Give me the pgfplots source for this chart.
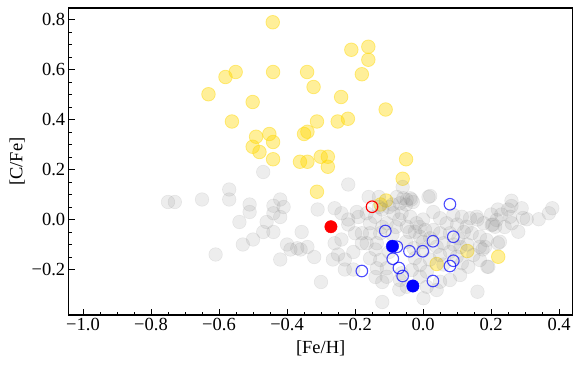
\documentclass[border=0pt]{standalone}
\usepackage{pgfplots}
\pgfplotsset{compat=1.18}
\usepackage{fontspec}
\setmainfont{Liberation Serif}
\definecolor{gold}{RGB}{255,215,0}

% grey field sample
\pgfplotstableread{
x y
-0.75 0.07
-0.73 0.07
-0.65 0.08
-0.57 0.12
-0.57 0.08
-0.51 0.06
-0.51 0.03
-0.54 -0.01
-0.47 0.19
-0.50 -0.08
-0.53 -0.10
-0.61 -0.14
-0.47 -0.05
-0.46 -0.01
-0.44 -0.05
-0.42 0.08
-0.44 0.055
-0.41 0.05
-0.44 0.025
-0.42 0.01
-0.40 -0.10
-0.39 -0.12
-0.42 -0.16
-0.36 -0.12
-0.357 -0.05
-0.37 -0.115
-0.34 -0.11
-0.32 -0.15
-0.30 -0.25
-0.31 0.04
-0.26 0.045
-0.24 0.025
-0.22 0.14
-0.16 0.09
-0.13 0.09
-0.26 -0.095
-0.24 -0.08
-0.265 -0.16
-0.23 -0.16
-0.23 -0.20
-0.205 -0.20
-0.25 -0.14
-0.205 -0.13
-0.12 -0.33
-0.07 -0.28
-0.22 0.00
-0.22 -0.02
-0.19 0.01
-0.20 -0.055
-0.18 -0.055
-0.166 -0.095
-0.18 -0.095
-0.156 -0.015
-0.156 -0.055
-0.136 -0.095
-0.126 -0.055
-0.107 -0.015
-0.087 0.025
-0.068 0.065
-0.156 -0.155
-0.126 -0.162
-0.107 -0.195
-0.136 -0.195
-0.107 -0.229
-0.068 -0.242
-0.166 0.025
-0.195 0.03
-0.141 0.011
-0.12 0.04
-0.10 0.05
-0.13 0.05
-0.09 0.06
-0.05 0.06
-0.03 0.07
-0.06 0.13
-0.077 0.09
-0.058 0.085
-0.038 0.085
0.016 0.09
-0.048 0.078
-0.034 0.08
0.021 0.094
-0.12 -0.03
-0.14 -0.12
-0.09 -0.06
-0.10 -0.13
-0.12 -0.25
-0.14 -0.23
-0.08 -0.03
-0.07 0.00
-0.063 0.025
-0.038 0.011
-0.019 -0.015
0.006 -0.042
-0.024 -0.049
-0.048 -0.029
-0.009 -0.069
0.05 0.005
0.069 -0.015
0.089 0.018
0.114 0.011
0.138 0.005
0.158 0.011
0.178 -0.015
0.202 -0.022
0.216 -0.002
0.128 -0.029
0.143 -0.055
0.167 -0.069
0.187 -0.082
0.167 -0.109
0.148 -0.142
0.167 -0.162
0.104 -0.075
0.079 -0.055
0.05 -0.055
0.03 -0.042
0.021 -0.075
0.06 -0.095
0.04 -0.109
0.05 -0.142
0.079 -0.129
0.099 -0.149
0.114 -0.175
0.133 -0.189
0.109 -0.222
0.079 -0.242
0.05 -0.249
0.011 -0.209
-0.009 -0.182
-0.024 -0.155
-0.033 -0.202
-0.009 -0.229
0.011 -0.269
0.04 -0.282
-0.048 -0.269
-0.063 -0.215
-0.028 -0.115
0.001 -0.122
0.00 -0.09
-0.05 -0.09
0.09 -0.10
0.12 -0.05
0.10 -0.02
0.03 0.03
0.00 0.00
-0.01 -0.03
0.06 -0.18
0.02 -0.16
-0.04 -0.05
0.16 0.00
0.11 -0.11
0.13 -0.10
0.16 -0.289
0.001 -0.315
0.192 -0.189
0.26 0.075
0.26 0.054
0.29 0.045
0.38 0.045
0.37 0.025
0.34 0.001
0.305 0.001
0.294 0.006
0.256 0.011
0.25 0.04
0.22 0.04
0.23 0.02
0.261 -0.015
0.28 -0.049
0.212 -0.029
0.205 -0.02
0.226 -0.089
0.22 -0.095
0.189 -0.189
0.182 -0.11
0.175 -0.12
0.24 -0.03
0.20 0.02
}\greytab

% carbon-enhanced (yellow)
\pgfplotstableread{
x y
-0.442 0.789
-0.211 0.679
-0.161 0.691
-0.161 0.639
-0.581 0.570
-0.551 0.590
-0.441 0.590
-0.341 0.590
-0.180 0.581
-0.322 0.530
-0.631 0.501
-0.501 0.470
-0.241 0.490
-0.110 0.440
-0.562 0.392
-0.312 0.392
-0.251 0.392
-0.221 0.403
-0.491 0.331
-0.452 0.342
-0.441 0.310
-0.501 0.291
-0.481 0.270
-0.441 0.241
-0.350 0.342
-0.340 0.351
-0.362 0.231
-0.340 0.231
-0.301 0.251
-0.280 0.251
-0.280 0.211
-0.312 0.111
-0.050 0.241
-0.060 0.163
-0.125 0.060
-0.109 0.076
0.221 -0.149
0.130 -0.126
0.040 -0.178
}\yellowtab

\pgfplotstableread{
x y
0.079 0.061
-0.111 -0.046
0.089 -0.069
0.029 -0.087
-0.077 -0.109
-0.040 -0.127
-0.001 -0.127
-0.089 -0.157
0.089 -0.165
0.079 -0.186
-0.071 -0.194
-0.060 -0.226
-0.180 -0.206
0.029 -0.246
}\blueopen

\begin{document}
\begin{tikzpicture}
\begin{axis}[at={(0,0)},anchor=south west,scale only axis,
  width=504pt,height=307pt,
  xmin=-1.042,xmax=0.44,ymin=-0.382,ymax=0.846,
  xtick={-1,-0.8,-0.6,-0.4,-0.2,0,0.2,0.4},
  xticklabels={−1.0,−0.8,−0.6,−0.4,−0.2,0.0,0.2,0.4},
  ytick={-0.2,0,0.2,0.4,0.6,0.8},
  yticklabels={−0.2,0.0,0.2,0.4,0.6,0.8},
  minor x tick num=3,minor y tick num=3,
  tick align=inside,xtick pos=left,ytick pos=left,
  major tick length=6pt,minor tick length=3.5pt,
  tick style={black,line width=0.8pt},
  axis line style={line width=1.1pt},
  tick label style={font=\fontsize{18.5}{20}\selectfont},
  label style={font=\fontsize{18.5}{20}\selectfont},
  xlabel={[Fe/H]},ylabel={[C/Fe]},
  xlabel style={yshift=-3pt},
  clip=true]
\addplot[only marks,mark=*,mark size=6.8pt,
  mark options={fill=gold,draw=gold,fill opacity=0.4,draw opacity=0.45,line width=0.8pt}]
  table[x=x,y=y]{\yellowtab};
\addplot[only marks,mark=*,mark size=6.8pt,
  mark options={fill=gray,draw=gray,fill opacity=0.14,draw opacity=0.14,line width=0.6pt}]
  table[x=x,y=y]{\greytab};
\addplot[only marks,mark=o,mark size=5.8pt,
  mark options={draw=blue,draw opacity=0.7,line width=1.1pt}]
  table[x=x,y=y]{\blueopen};
\addplot[only marks,mark=*,mark size=6.2pt,mark options={fill=blue,draw=blue}]
  coordinates {(-0.090,-0.107) (-0.030,-0.266)};
\addplot[only marks,mark=*,mark size=6.2pt,mark options={fill=red,draw=red}]
  coordinates {(-0.271,-0.029)};
\addplot[only marks,mark=o,mark size=5.8pt,mark options={draw=red,line width=1.1pt}]
  coordinates {(-0.150,0.051)};
\end{axis}
\pgfresetboundingbox
\path[use as bounding box] (-68.7pt,-52pt) rectangle (512.3pt,315pt);
\end{tikzpicture}
\end{document}
